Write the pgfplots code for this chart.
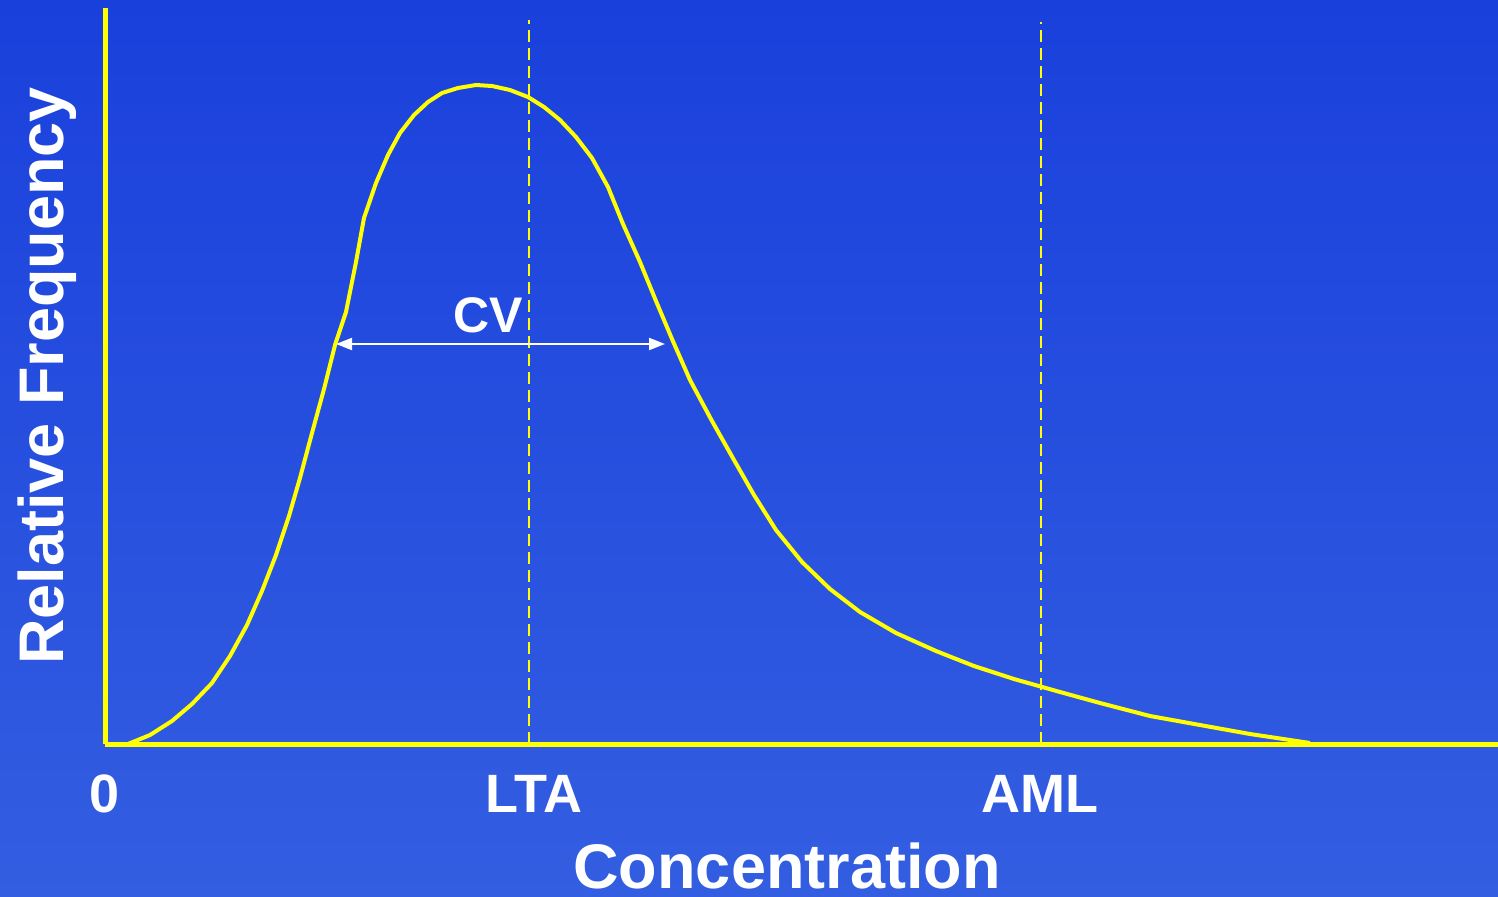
\documentclass[border=0pt]{standalone}
\usepackage{pgfplots}
\pgfplotsset{compat=1.18}
\usepackage{fontspec}
\setmainfont{Liberation Sans}
\usetikzlibrary{arrows.meta}
\definecolor{bgtop}{RGB}{26,64,220}
\definecolor{bgbot}{RGB}{51,94,225}
\definecolor{curveyellow}{RGB}{255,255,0}
\begin{document}
\begin{tikzpicture}
\useasboundingbox (0,0) rectangle (749pt,448pt);
\shade[top color=bgtop, bottom color=bgbot] (0,0) rectangle (749pt,448pt);
\begin{axis}[
  at={(52.5pt,76pt)}, anchor=south west,
  scale only axis, width=696.5pt, height=368pt,
  xmin=0, xmax=1393, ymin=0, ymax=736,
  axis lines=left,
  axis line style={curveyellow, line width=2.5pt, -},
  clip=false,
  xtick={0,429,935}, xticklabels={0,LTA,AML},
  ytick=\empty,
  major tick length=0pt,
  xticklabel style={anchor=base, yshift=-34pt, text=white, font=\fontsize{27}{29}\selectfont\bfseries},
  xlabel={Concentration}, ylabel={Relative Frequency},
  xlabel style={at={(axis description cs:0.4896,-0.1960)}, anchor=base, inner sep=0pt, text=white, font=\fontsize{31.5}{34}\selectfont\bfseries},
  ylabel style={at={(axis description cs:-0.02943,0.5)}, rotate=0, anchor=base, text=white, font=\fontsize{31.5}{34}\selectfont\bfseries},
]
\addplot[curveyellow, line width=2pt, line join=round] coordinates {
(23,0)(45,9)(67,23)(87,40)(107,61)(125,88)(142,119)(157,153)(171,189)(184,228)
(195,266)(207,311)(219,355)(230,399)(241,432)(251,482)(259,526)(271,561)(283,589)
(295,611)(309,629)(323,642)(337,651)(353,656)(371,659)(387,658)(405,654)(423,647)
(439,637)(455,624)(471,607)(487,586)(503,557)(518,520)(535,482)(551,443)(567,405)
(585,364)(607,323)(629,284)(649,249)(671,214)(697,182)(725,155)(755,132)(791,111)
(831,93)(869,78)(909,65)(955,52)(995,41)(1045,28)(1095,19)(1145,10)(1205,1)
};
\addplot[curveyellow, line width=1pt, dash pattern=on 6pt off 3pt] coordinates {(424,0)(424,724)};
\addplot[curveyellow, line width=1pt, dash pattern=on 6pt off 3pt] coordinates {(936,0)(936,722)};
\draw[white, line width=1pt, {Triangle[length=8pt,width=6pt]}-{Triangle[length=8pt,width=6pt]}] (axis cs:231,400) -- (axis cs:560,400);
\node[text=white, font=\fontsize{25}{27}\selectfont\bfseries, anchor=base] at (axis cs:383,412) {CV};
\end{axis}
\end{tikzpicture}
\end{document}
